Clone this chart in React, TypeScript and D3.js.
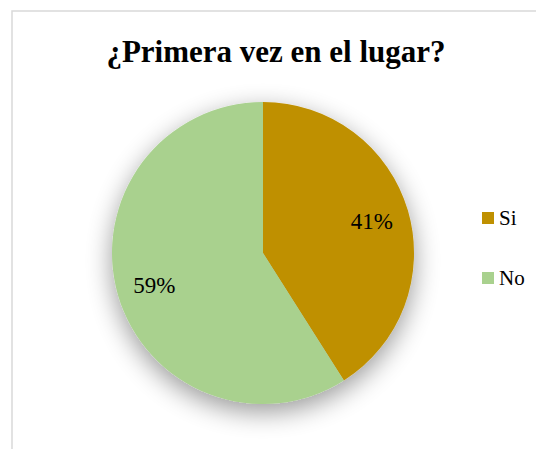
import React from "react";
import * as d3 from "d3";

const title = "¿Primera vez en el lugar?";
const categories = ["Si", "No"];
const values = [41, 59];
const colors = ["#BF9000", "#A9D18E"];

const W = 536;
const H = 449;
const FONT = "Liberation Serif, Times New Roman, serif";

export default function App() {
  const cx = 263;
  const cy = 253;
  const r = 151;
  const color = d3.scaleOrdinal<string, string>().domain(categories).range(colors);
  const pie = d3.pie<number>().sort(null).value((d) => d);
  const arcs = pie(values);
  const arc = d3.arc<d3.PieArcDatum<number>>().innerRadius(0).outerRadius(r);
  const labelArc = d3.arc<d3.PieArcDatum<number>>().innerRadius(r * 0.75).outerRadius(r * 0.75);
  const total = d3.sum(values);
  const legendY = d3.scalePoint<string>().domain(categories).range([218, 278]);

  return (
    <div style={{ position: "fixed", left: 0, top: 0 }}>
      <svg width={W} height={H} style={{ display: "block", fontFamily: FONT }}>
        <defs>
          <filter id="sh" x="-40%" y="-40%" width="180%" height="180%">
            <feGaussianBlur in="SourceAlpha" stdDeviation="13" />
            <feOffset dx="0" dy="8" result="b" />
            <feComponentTransfer>
              <feFuncA type="linear" slope="0.4" />
            </feComponentTransfer>
            <feMerge>
              <feMergeNode />
              <feMergeNode in="SourceGraphic" />
            </feMerge>
          </filter>
        </defs>
        <rect x={0} y={0} width={W} height={H} fill="#ffffff" />
        <rect x={12} y={11} width={560} height={480} fill="#ffffff" stroke="#d9d9d9" strokeWidth={1.5} />
        <text x={276} y={62} textAnchor="middle" fontSize={31} fontWeight="bold" fill="#000" style={{ fontFamily: FONT }}>
          {title}
        </text>
        <g transform={`translate(${cx},${cy})`} filter="url(#sh)">
          {arcs.map((a, i) => (
            <path key={categories[i]} d={arc(a) || ""} fill={color(categories[i])} />
          ))}
        </g>
        <g transform={`translate(${cx},${cy})`}>
          {arcs.map((a, i) => {
            const [lx, ly] = labelArc.centroid(a);
            return (
              <text key={categories[i]} x={lx} y={ly} dy="0.35em" textAnchor="middle" fontSize={23} fill="#000" style={{ fontFamily: FONT }}>
                {Math.round((values[i] / total) * 100)}%
              </text>
            );
          })}
        </g>
        {categories.map((c) => (
          <g key={c} transform={`translate(482,${legendY(c)})`}>
            <rect x={0} y={-6} width={12} height={12} fill={color(c)} />
            <text x={17} y={0} dy="0.35em" fontSize={21} fill="#000" style={{ fontFamily: FONT }}>
              {c}
            </text>
          </g>
        ))}
      </svg>
    </div>
  );
}
